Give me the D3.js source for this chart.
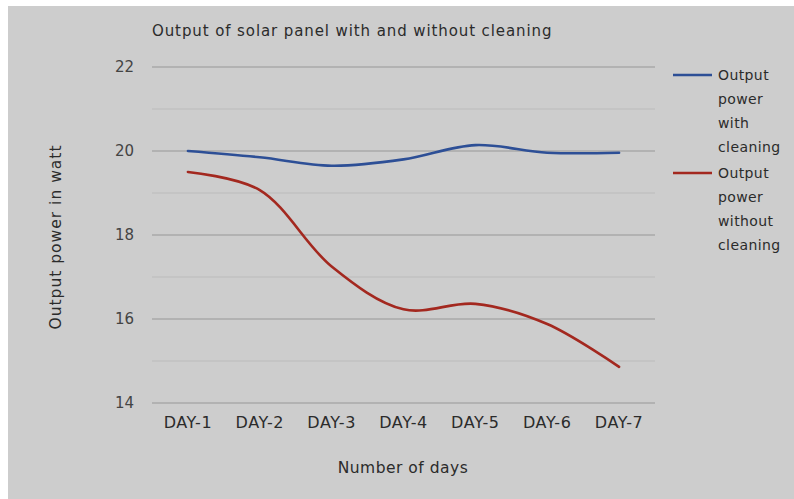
<!DOCTYPE html>
<html>
<head>
<meta charset="utf-8">
<script src="https://cdn.jsdelivr.net/npm/d3@7"></script>
<style>
  html, body { margin:0; padding:0; background:#fff; }
  svg text { font-family: "DejaVu Sans", sans-serif; fill:#2b2b2b; }
</style>
</head>
<body>
<svg id="chart" width="794" height="499"></svg>
<script>
var days = ["DAY-1","DAY-2","DAY-3","DAY-4","DAY-5","DAY-6","DAY-7"];
var withCleaning = [20.0, 19.85, 19.65, 19.8, 20.14, 19.96, 19.96];
var withoutCleaning = [19.5, 19.07, 17.25, 16.23, 16.36, 15.88, 14.86];
var yTicks = [14, 16, 18, 20, 22];
var minorTicks = [15, 17, 19, 21];
var seriesNames = [["Output","power","with","cleaning"], ["Output","power","without","cleaning"]];
var seriesColors = ["#2d4f96", "#a3281f"];

var svg = d3.select("#chart");
svg.append("rect").attr("x", 8).attr("y", 6).attr("width", 786).attr("height", 493).attr("fill", "#cdcdcd");

var plotL = 152, plotR = 655, plotT = 67, plotB = 403;
var x = d3.scaleBand().domain(days).range([plotL, plotR]);
var y = d3.scaleLinear().domain([14, 22]).range([plotB, plotT]);

// grid
svg.append("g").selectAll("line").data(minorTicks).enter().append("line")
  .attr("x1", plotL).attr("x2", plotR)
  .attr("y1", function(d){ return y(d); }).attr("y2", function(d){ return y(d); })
  .attr("stroke", "#bcbcbc").attr("stroke-width", 1.2);
svg.append("g").selectAll("line").data(yTicks).enter().append("line")
  .attr("x1", plotL).attr("x2", plotR)
  .attr("y1", function(d){ return y(d); }).attr("y2", function(d){ return y(d); })
  .attr("stroke", "#a9a9a9").attr("stroke-width", 1.5);

// y axis labels
var yAxis = d3.axisLeft(y).tickValues(yTicks).tickSize(0).tickPadding(18);
var gy = svg.append("g").attr("transform", "translate(" + plotL + ",0)").call(yAxis);
gy.select(".domain").remove();
gy.selectAll("text").style("font-size", "15px").style("fill", "#444").style("font-family", "DejaVu Sans");

// x axis labels
var xAxis = d3.axisBottom(x).tickSize(0).tickPadding(14);
var gx = svg.append("g").attr("transform", "translate(0," + plotB + ")").call(xAxis);
gx.select(".domain").remove();
gx.selectAll("text").style("font-size", "16px").style("fill", "#2b2b2b").style("font-family", "DejaVu Sans")
  .style("letter-spacing", "0.6px");

// lines
var line = d3.line()
  .x(function(d, i){ return x(days[i]) + x.bandwidth()/2; })
  .y(function(d){ return y(d); })
  .curve(d3.curveCatmullRom.alpha(0.5));

[withCleaning, withoutCleaning].forEach(function(s, k) {
  svg.append("path").datum(s).attr("d", line)
    .attr("fill", "none").attr("stroke", seriesColors[k])
    .attr("stroke-width", 2.6).attr("stroke-linecap", "round");
});

// legend
seriesNames.forEach(function(lines, k) {
  var ly = 75 + k * 98;
  svg.append("line").attr("x1", 673).attr("x2", 712).attr("y1", ly).attr("y2", ly)
    .attr("stroke", seriesColors[k]).attr("stroke-width", 2.6);
  lines.forEach(function(t, j) {
    svg.append("text").attr("x", 718).attr("y", ly + 5 + j * 24)
      .style("font-size", "14px").style("letter-spacing", "0.4px").text(t);
  });
});

// titles
svg.append("text").attr("x", 152).attr("y", 36).style("font-size", "15px").style("letter-spacing", "0.9px")
  .text("Output of solar panel with and without cleaning");
svg.append("text").attr("x", 403).attr("y", 473).attr("text-anchor", "middle").style("font-size", "15.5px")
  .style("letter-spacing", "0.5px").text("Number of days");
svg.append("text").attr("transform", "translate(61,237) rotate(-90)").attr("text-anchor", "middle")
  .style("font-size", "15.5px").style("letter-spacing", "1px").text("Output power in watt");
</script>
</body>
</html>
